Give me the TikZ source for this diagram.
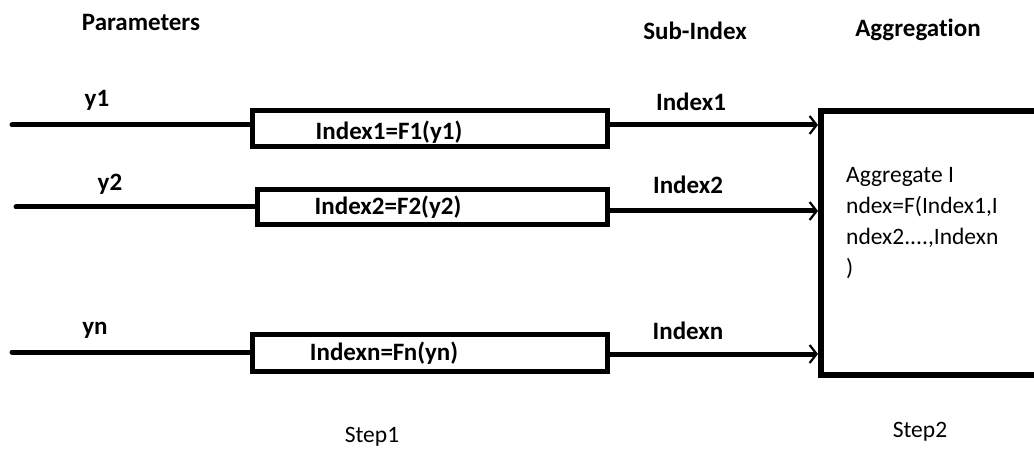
\documentclass[tikz,border=0pt]{standalone}
\usepackage{fontspec}
\setmainfont[Ligatures={TeX,NoCommon}]{Carlito}
\usetikzlibrary{arrows.meta}
\begin{document}
\begin{tikzpicture}[x=1pt,y=-1pt,
  lbl/.style={font=\fontsize{25}{29}\selectfont\bfseries, inner sep=0pt},
  txt/.style={font=\fontsize{23.5}{27}\selectfont, inner sep=0pt},
  fbox/.style={draw, line width=5pt, inner sep=0pt},
  wire/.style={line width=5pt},
  arr/.style={line width=5pt, -{Straight Barb[length=7pt,width=18pt,line width=2.2pt]}}]
\useasboundingbox (0,0) rectangle (1034,449);
\fill[white] (0,0) rectangle (1034,449);
% headings
\node[lbl] (hp) at (141,22) {Parameters};
\node[lbl] (hs) at (695,31) {Sub-Index};
\node[lbl] (ha) at (918,30) {Aggregation};
% boxes
\node[fbox, minimum width=355pt, minimum height=36pt] (b1) at (430,128.5) {};
\node[fbox, minimum width=350pt, minimum height=35pt] (b2) at (432.5,207) {};
\node[fbox, minimum width=355pt, minimum height=37pt] (bn) at (430,353) {};
\node[lbl] (t1) at (389,132) {Index1=F1(y1)};
\node[lbl] (t2) at (388,207) {Index2=F2(y2)};
\node[lbl] (tn) at (384,353) {Indexn=Fn(yn)};
% inputs
\node[lbl] (y1) at (97,100) {y1};
\node[lbl] (y2) at (110,184) {y2};
\node[lbl] (yn) at (95,330) {yn};
\coordinate (s1) at (12,125);
\coordinate (s2) at (16,207);
\coordinate (sn) at (12,352);
\draw[wire, line cap=round] (s1) -- (s1 -| b1.west);
\draw[wire, line cap=round] (s2) -- (s2 -| b2.west);
\draw[wire, line cap=round] (sn) -- (sn -| bn.west);
% aggregation box
\draw[line width=6pt] (1040,111) -- (821,111) -- (821,375) -- (1040,375);
\coordinate (agl) at (818,240);
\coordinate (a1) at (610,125);
\coordinate (a2) at (610,211);
\coordinate (an) at (610,354);
\draw[arr] (a1) -- (a1 -| agl);
\draw[arr] (a2) -- (a2 -| agl);
\draw[arr] (an) -- (an -| agl);
\node[lbl] (i1) at (691,102) {Index1};
\node[lbl] (i2) at (688,185) {Index2};
\node[lbl] (in) at (688,331) {Indexn};
\node[txt, anchor=north west, align=left, font=\fontsize{23.5}{31}\selectfont] (ag) at (846,167) {Aggregate I\\ndex=F(Index1,I\\ndex2....,Indexn\\)};
% steps
\node[txt] (st1) at (372,437) {Step1};
\node[txt] (st2) at (920,432) {Step2};
\end{tikzpicture}
\end{document}
